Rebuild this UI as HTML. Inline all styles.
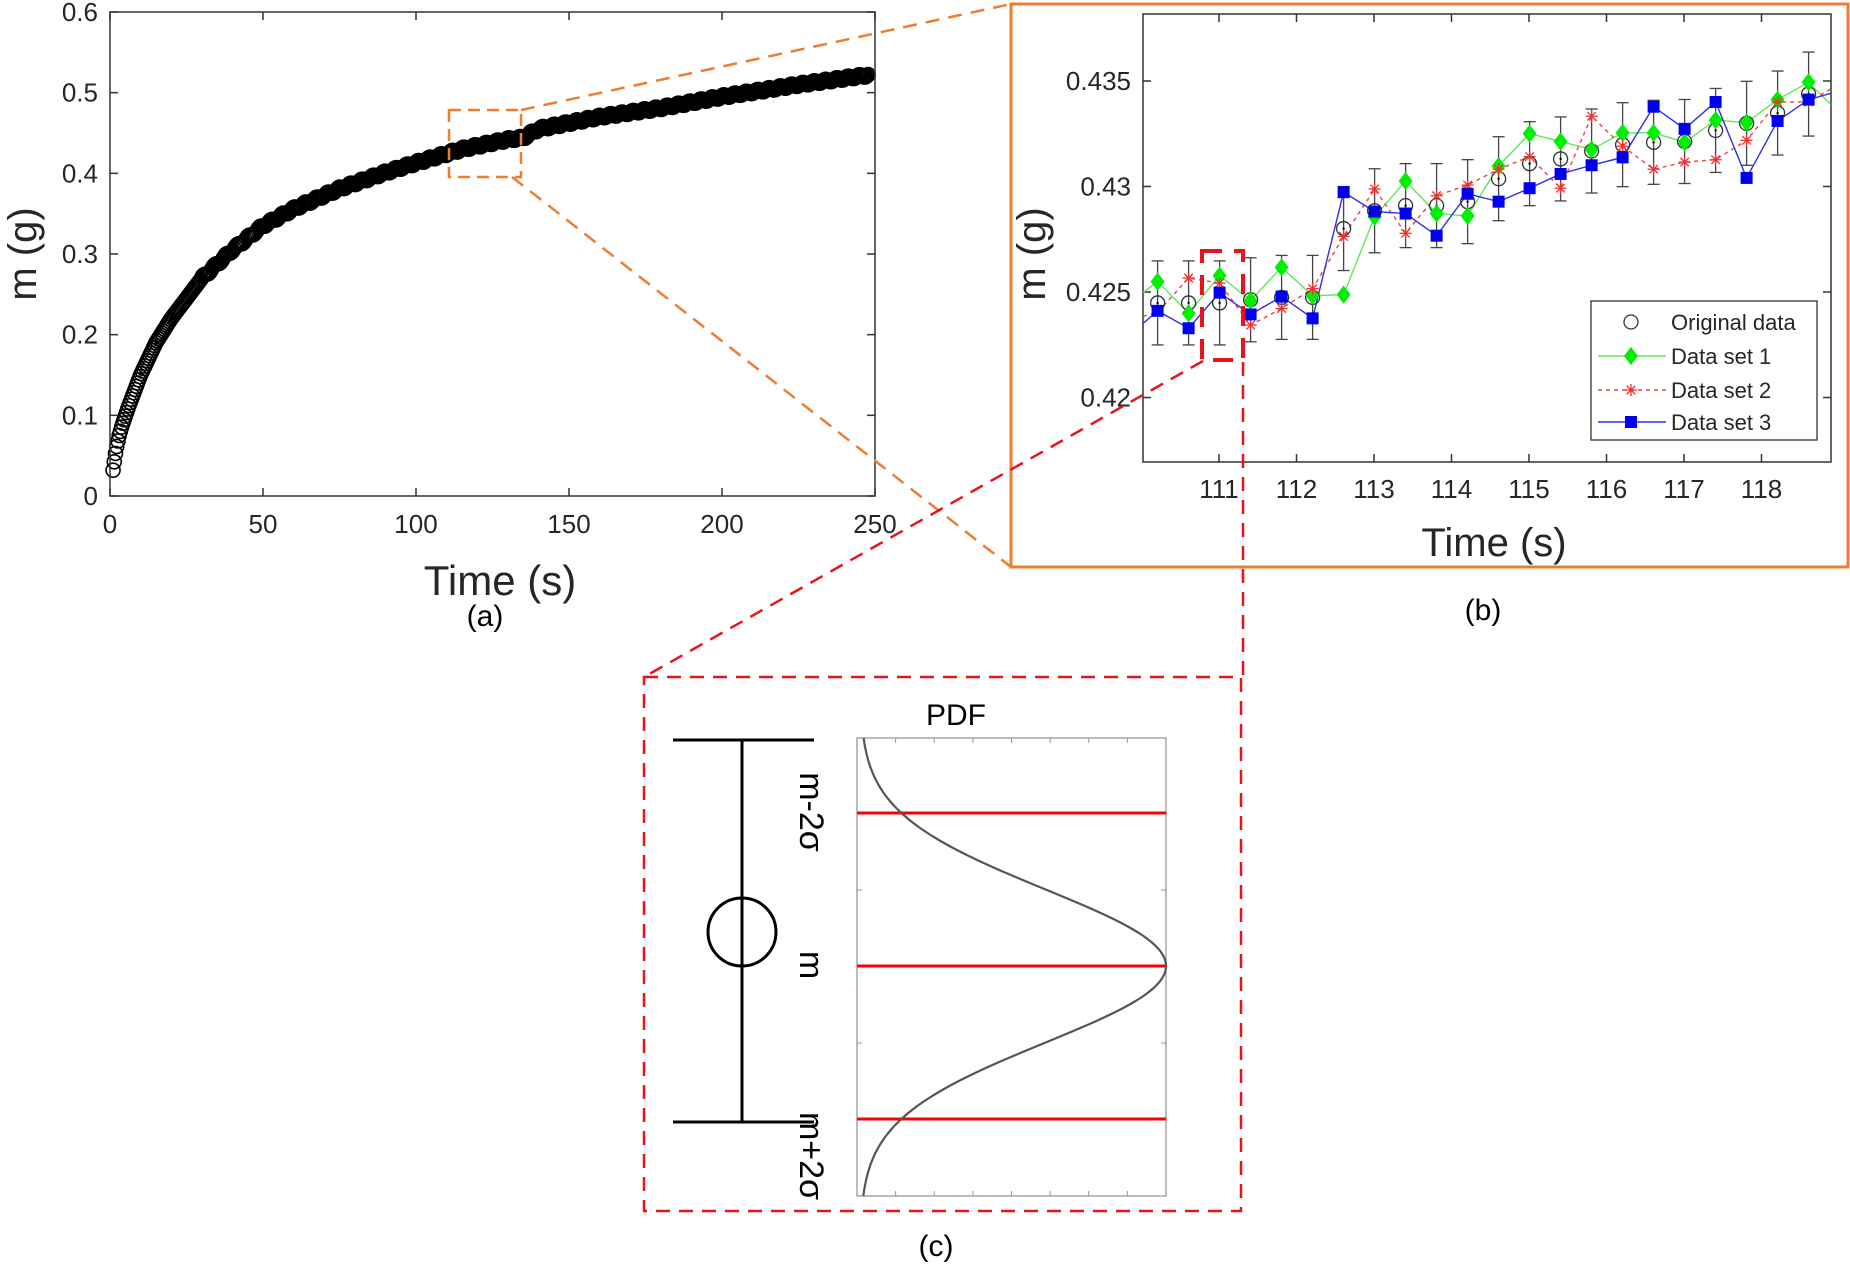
<!DOCTYPE html>
<html><head><meta charset="utf-8"><style>
html,body{margin:0;padding:0;background:#fff}
svg{display:block}
text{font-family:"Liberation Sans",Arial,sans-serif}
</style></head><body>
<svg id="s" width="1850" height="1267" viewBox="0 0 1850 1267" xmlns="http://www.w3.org/2000/svg">
<rect width="1850" height="1267" fill="#fff"/>
<g id="a"></g>
<g id="b"></g>
<g id="c"></g>
</svg>
<script>
const NS="http://www.w3.org/2000/svg";
function el(p,t,a,txt){const e=document.createElementNS(NS,t);for(const k in a)e.setAttribute(k,a[k]);if(txt!==undefined)e.textContent=txt;p.appendChild(e);return e;}
const S=document.getElementById('s');
const A=document.getElementById('a'),B=document.getElementById('b'),C=document.getElementById('c');
// ---------- Panel a ----------
const aL=110,aR=875,aT=12,aB=496;
const ax=t=>aL+t/250*(aR-aL), ay=v=>aB-v/0.6*(aB-aT);
const pts=[[0,0.01],[1,0.032],[2,0.058],[3,0.075],[4,0.088],[6,0.11],[10,0.15],[15,0.19],[20,0.22],[30,0.27],[40,0.305],[50,0.335],[60,0.356],[75,0.381],[90,0.401],[100,0.413],[115,0.43],[130,0.442],[135,0.444],[140,0.455],[160,0.47],[180,0.481],[200,0.495],[225,0.51],[248,0.522]];
function interp(t){for(let i=1;i<pts.length;i++){if(t<=pts[i][0]){const[a0,b0]=pts[i-1],[a1,b1]=pts[i];return b0+(b1-b0)*(t-a0)/(a1-a0);}}return 0.522;}
let g=el(A,'g',{fill:'none',stroke:'#000','stroke-width':1.6});
for(let t=1;t<=248;t+=0.4){const v=interp(t)+(t>30?(Math.sin(t*1.7)*0.002):0);el(g,'circle',{cx:ax(t),cy:ay(v),r:7});}
el(A,'rect',{x:aL,y:aT,width:aR-aL,height:aB-aT,fill:'none',stroke:'#333','stroke-width':1.5});
for(let i=0;i<=6;i++){const y=ay(i/10);el(A,'line',{x1:aL,x2:aL+8,y1:y,y2:y,stroke:'#333','stroke-width':1.5});el(A,'line',{x1:aR,x2:aR-8,y1:y,y2:y,stroke:'#333','stroke-width':1.5});
el(A,'text',{x:aL-12,y:y+9,'font-size':26,'text-anchor':'end',fill:'#262626'},i==0?'0':(i/10).toFixed(1));}
for(let i=0;i<=5;i++){const x=ax(i*50);el(A,'line',{x1:x,x2:x,y1:aB,y2:aB-8,stroke:'#333','stroke-width':1.5});el(A,'line',{x1:x,x2:x,y1:aT,y2:aT+8,stroke:'#333','stroke-width':1.5});
el(A,'text',{x:x,y:aB+37,'font-size':26,'text-anchor':'middle',fill:'#262626'},String(i*50));}
el(A,'text',{x:500,y:595,'font-size':42,'text-anchor':'middle',fill:'#262626'},'Time (s)');
el(A,'text',{x:0,y:0,'font-size':40,'text-anchor':'middle',fill:'#262626',transform:'translate(36,254) rotate(-90)'},'m (g)');
el(A,'text',{x:485,y:626,'font-size':30,'text-anchor':'middle',fill:'#000'},'(a)');
const OR='#ED7D31';
el(A,'rect',{x:449,y:110,width:72,height:67,fill:'none',stroke:OR,'stroke-width':2.5,'stroke-dasharray':'12,7'});
el(A,'line',{x1:521,y1:110,x2:1011,y2:4,stroke:OR,'stroke-width':2.5,'stroke-dasharray':'14,9'});
el(A,'line',{x1:512,y1:177,x2:1011,y2:567,stroke:OR,'stroke-width':2.5,'stroke-dasharray':'14,9'});
// ---------- Panel b ----------
el(B,'rect',{x:1011,y:4,width:837,height:563,fill:'#fff',stroke:OR,'stroke-width':3});
const bL=1143,bR=1831,bT=14,bBt=462;
const bx=t=>1219+(t-111)*77.5, by=v=>81+(0.435-v)/0.005*105.5;
el(B,'rect',{x:bL,y:bT,width:bR-bL,height:bBt-bT,fill:'#fff',stroke:'#333','stroke-width':1.5});
[0.42,0.425,0.43,0.435].forEach(v=>{const y=by(v);el(B,'line',{x1:bL,x2:bL+8,y1:y,y2:y,stroke:'#333','stroke-width':1.5});el(B,'line',{x1:bR,x2:bR-8,y1:y,y2:y,stroke:'#333','stroke-width':1.5});
el(B,'text',{x:bL-12,y:y+9,'font-size':26,'text-anchor':'end',fill:'#262626'},String(+v.toFixed(3)));});
for(let t=111;t<=118;t++){const x=bx(t);el(B,'line',{x1:x,x2:x,y1:bBt,y2:bBt-8,stroke:'#333','stroke-width':1.5});el(B,'line',{x1:x,x2:x,y1:bT,y2:bT+8,stroke:'#333','stroke-width':1.5});
el(B,'text',{x:x,y:bBt+36,'font-size':26,'text-anchor':'middle',fill:'#262626'},String(t));}
el(B,'text',{x:1494,y:556,'font-size':40,'text-anchor':'middle',fill:'#262626'},'Time (s)');
el(B,'text',{x:0,y:0,'font-size':40,'text-anchor':'middle',fill:'#262626',transform:'translate(1045,254) rotate(-90)'},'m (g)');
el(B,'text',{x:1483,y:620,'font-size':30,'text-anchor':'middle',fill:'#000'},'(b)');
const zy=z=>81+(z-205)*0.3956;
const X=i=>1157.6+i*31;
const orig=[766,766,766,758,752,752,578,533,520,520,510,452,414,402,382,366,360,358,330,312,286,238];
const g1=[712,792,697,760,676,748,745,548,458,540,546,420,338,358,378,336,336,360,304,310,252,208];
const r2=[790,703,716,822,780,730,598,478,590,495,468,428,396,476,294,370,428,410,404,355,258,258];
const b3=[786,830,740,795,750,805,486,535,540,596,490,510,476,440,418,398,270,326,258,450,306,252];
const clip=el(B,'clipPath',{id:'cp'});el(clip,'rect',{x:bL,y:bT,width:bR-bL,height:bBt-bT});
const gb=el(B,'g',{'clip-path':'url(#cp)'});
orig.forEach((z,i)=>{const x=X(i),y=zy(z),e=42;el(gb,'line',{x1:x,x2:x,y1:y-e,y2:y+e,stroke:'#444','stroke-width':1.3});el(gb,'line',{x1:x-6,x2:x+6,y1:y-e,y2:y-e,stroke:'#444','stroke-width':1.3});el(gb,'line',{x1:x-6,x2:x+6,y1:y+e,y2:y+e,stroke:'#444','stroke-width':1.3});});
function poly(arr,ext0,ext1,col,dash){let p=[[bL,zy(ext0)]].concat(arr.map((z,i)=>[X(i),zy(z)]));p.push([bR,zy(ext1)]);const a={points:p.map(q=>q.join(',')).join(' '),fill:'none',stroke:col,'stroke-width':1.4};if(dash)a['stroke-dasharray']=dash;el(gb,'polyline',a);}
poly(g1,740,265,'#5EE85E');poly(r2,800,225,'#F04040','4,4');poly(b3,818,236,'#2E2EE8');
function diamond(p,x,y,s,c){el(p,'polygon',{points:`${x},${y-s*1.3} ${x+s},${y} ${x},${y+s*1.3} ${x-s},${y}`,fill:c});}
function star(p,x,y,s,c){for(let k=0;k<4;k++){const a=k*Math.PI/4;el(p,'line',{x1:x-s*Math.cos(a),y1:y-s*Math.sin(a),x2:x+s*Math.cos(a),y2:y+s*Math.sin(a),stroke:c,'stroke-width':1.3});}}
function sq(p,x,y,s,c){el(p,'rect',{x:x-s,y:y-s,width:2*s,height:2*s,fill:c});}
orig.forEach((z,i)=>{el(gb,'circle',{cx:X(i),cy:zy(z),r:7,fill:'none',stroke:'#333','stroke-width':1.3});el(gb,'circle',{cx:X(i),cy:zy(z),r:1.2,fill:'#000'});});
g1.forEach((z,i)=>diamond(gb,X(i),zy(z),7,'#00EE00'));
r2.forEach((z,i)=>star(gb,X(i),zy(z),6,'#F03030'));
b3.forEach((z,i)=>sq(gb,X(i),zy(z),6,'#0000EE'));
el(B,'rect',{x:1591,y:301,width:226,height:139,fill:'#fff',stroke:'#333','stroke-width':1.3});
const ly=[322,356,390,422],lt=['Original data','Data set 1','Data set 2','Data set 3'];
el(B,'circle',{cx:1631,cy:ly[0],r:7,fill:'none',stroke:'#333','stroke-width':1.3});
el(B,'line',{x1:1598,x2:1666,y1:ly[1],y2:ly[1],stroke:'#5EE85E','stroke-width':1.4});diamond(B,1631,ly[1],7,'#00EE00');
el(B,'line',{x1:1598,x2:1666,y1:ly[2],y2:ly[2],stroke:'#F04040','stroke-width':1.4,'stroke-dasharray':'4,4'});star(B,1631,ly[2],6,'#F03030');
el(B,'line',{x1:1598,x2:1666,y1:ly[3],y2:ly[3],stroke:'#2E2EE8','stroke-width':1.4});sq(B,1631,ly[3],6,'#0000EE');
lt.forEach((t,i)=>el(B,'text',{x:1671,y:ly[i]+8,'font-size':22,fill:'#262626'},t));
const RD='#E8141B';
el(S,'rect',{x:1202,y:251,width:41,height:109,fill:'none',stroke:RD,'stroke-width':4,'stroke-dasharray':'20,12'});
el(S,'line',{x1:1203,y1:361,x2:644,y2:677,stroke:RD,'stroke-width':2.5,'stroke-dasharray':'14,9'});
el(S,'line',{x1:1243,y1:362,x2:1243,y2:677,stroke:RD,'stroke-width':2.5,'stroke-dasharray':'14,9'});
// ---------- Panel c ----------
el(C,'rect',{x:644,y:677,width:597,height:534,fill:'none',stroke:RD,'stroke-width':2.5,'stroke-dasharray':'14,9'});
const cL=857,cR=1166,cT=738,cB=1196;
el(C,'rect',{x:cL,y:cT,width:cR-cL,height:cB-cT,fill:'none',stroke:'#999','stroke-width':1.3});
for(let i=1;i<8;i++){const x=cL+i*(cR-cL)/8;el(C,'line',{x1:x,x2:x,y1:cB,y2:cB-5,stroke:'#999'});el(C,'line',{x1:x,x2:x,y1:cT,y2:cT+5,stroke:'#999'});}
[890,1043].forEach(y=>{el(C,'line',{x1:cR,x2:cR-5,y1:y,y2:y,stroke:'#999'});el(C,'line',{x1:cL,x2:cL+5,y1:y,y2:y,stroke:'#999'});});
[813,966,1119].forEach(y=>el(C,'line',{x1:cL,x2:cR,y1:y,y2:y,stroke:'#F00','stroke-width':3}));
let d='';for(let y=cT;y<=cB;y+=2){const s=(y-966)/76.5;const x=cL+3+(cR-cL-3)*Math.exp(-s*s/2);d+=(y==cT?'M':'L')+x.toFixed(1)+','+y;}
el(C,'path',{d:d,fill:'none',stroke:'#555','stroke-width':2.2});
el(C,'text',{x:956,y:725,'font-size':30,'text-anchor':'middle',fill:'#000'},'PDF');
el(C,'line',{x1:742,x2:742,y1:740,y2:1122,stroke:'#000','stroke-width':3});
el(C,'line',{x1:673,x2:814,y1:740,y2:740,stroke:'#000','stroke-width':3});
el(C,'line',{x1:673,x2:814,y1:1122,y2:1122,stroke:'#000','stroke-width':3});
el(C,'circle',{cx:742,cy:932,r:34,fill:'none',stroke:'#000','stroke-width':3});
[['m-2σ',812],['m',965],['m+2σ',1156]].forEach(([t,y])=>el(C,'text',{x:0,y:0,'font-size':34,'text-anchor':'middle',fill:'#000',transform:`translate(800,${y}) rotate(90)`},t));
el(C,'text',{x:936,y:1256,'font-size':30,'text-anchor':'middle',fill:'#000'},'(c)');
</script>
</body></html>
